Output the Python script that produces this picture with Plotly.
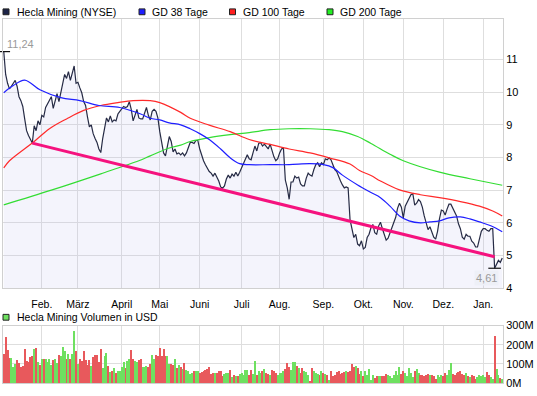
import plotly.graph_objects as go

# ---------------- data ----------------
months = ["Feb.", "März", "April", "Mai", "Juni", "Juli", "Aug.", "Sep.", "Okt.", "Nov.", "Dez.", "Jan."]
month_start_idx = [20, 39, 62, 82, 103, 125, 145, 168, 189, 210, 231, 252]

price = [
    11.24, 10.54, 10.27, 10.10, 10.18, 10.27, 10.36, 10.18, 9.86, 9.74,
    9.56, 9.18, 8.82, 8.67, 8.55, 8.44, 8.97, 8.82, 9.12, 9.00,
    9.29, 9.24, 9.53, 9.65, 9.74, 9.86, 9.50, 9.74, 9.95, 9.71,
    9.98, 10.21, 10.54, 10.42, 10.63, 10.36, 10.63, 10.80, 10.27, 10.30,
    10.13, 9.98, 9.71, 9.59, 9.24, 8.94, 9.00, 8.73, 8.58, 8.46,
    8.26, 8.15, 8.58, 8.94, 9.21, 9.09, 9.27, 9.09, 9.15, 9.12,
    9.33, 9.41, 9.47, 9.56, 9.53, 9.56, 9.71, 9.47, 9.12, 9.29,
    9.47, 9.21, 9.18, 9.18, 9.38, 9.53, 9.29, 9.15, 9.41, 9.47,
    9.41, 9.21, 8.79, 8.41, 8.14, 8.05, 8.41, 8.64, 8.49, 8.17,
    8.26, 8.11, 8.14, 8.08, 8.14, 8.05, 8.14, 8.32, 8.46, 8.46,
    8.43, 8.52, 8.52, 8.26, 8.05, 7.90, 7.78, 7.66, 7.57, 7.52,
    7.43, 7.52, 7.40, 7.28, 7.10, 7.06, 7.13, 7.34, 7.46, 7.37,
    7.49, 7.43, 7.55, 7.43, 7.55, 7.69, 7.78, 7.93, 8.08, 7.96,
    7.93, 8.14, 8.35, 8.20, 8.43, 8.46, 8.35, 8.41, 8.35, 8.26,
    8.41, 8.20, 8.02, 7.90, 7.96, 8.14, 8.26, 8.29, 7.31, 7.07,
    6.72, 7.25, 7.25, 7.43, 7.37, 7.40, 7.19, 7.13, 7.13, 7.37,
    7.52, 7.46, 7.43, 7.63, 7.78, 7.84, 7.72, 7.84, 7.78, 7.96,
    7.93, 7.99, 7.93, 7.78, 7.63, 7.57, 7.40, 7.28, 7.16, 7.07,
    7.10, 7.07, 6.10, 5.80, 5.55, 5.65, 5.35, 5.30, 5.45, 5.20,
    5.25, 5.55, 5.65, 5.85, 5.95, 5.70, 5.65, 5.90, 6.02, 5.82,
    5.65, 5.47, 5.53, 5.68, 5.82, 6.02, 6.17, 6.45, 6.60, 6.48,
    6.15, 6.51, 6.63, 6.74, 6.86, 6.89, 6.54, 6.60, 6.71, 6.65,
    6.48, 6.21, 6.00, 5.79, 5.88, 5.74, 5.56, 5.50, 5.74, 6.12,
    6.39, 6.36, 6.24, 6.42, 6.57, 6.57, 6.45, 6.36, 6.21, 5.97,
    5.82, 5.56, 5.50, 5.65, 5.59, 5.59, 5.44, 5.38, 5.26, 5.26,
    5.56, 5.74, 5.82, 5.82, 5.77, 5.74, 5.82, 5.82, 4.61, 4.73,
    4.85, 4.79, 4.92,
]

volume_m = [
    152, 244, 174, 136, 136, 88, 101, 123, 108,
    86, 94, 179, 118, 111, 140, 143, 182, 185, 111,
    98, 131, 131, 128, 111, 131, 98, 123, 128,
    108, 148, 145, 189, 168, 131, 155, 128, 152, 275,
    168, 104, 128, 118, 168, 123, 98, 123, 94, 140,
    148, 148, 111, 182, 81, 142, 162, 93, 59,
    64, 84, 54, 64, 67, 89, 111, 81, 118, 126,
    174, 131, 118, 115, 123, 128, 89, 89, 91, 88,
    101, 148, 131, 148, 145, 185, 145, 182, 142, 145,
    101, 101, 98, 131, 81, 98, 86, 78, 106,
    72, 64, 52, 54, 67, 64, 64, 56, 59, 64,
    71, 76, 89, 52, 56, 56, 56, 67, 64,
    39, 51, 56, 56, 71, 34, 44, 40, 40, 51,
    56, 47, 71, 72, 44, 72, 51, 118, 47, 67,
    56, 64, 76, 56, 51, 47, 72, 64, 56, 47,
    54, 56, 64, 78, 106, 89, 72, 111, 111,
    93, 81, 56, 84, 67, 59, 47, 13, 81, 64,
    56, 52, 47, 67, 57, 51, 47, 17, 64, 39,
    47, 61, 64, 51, 54, 59, 64, 59, 67,
    101, 89, 94, 84, 51, 67, 39, 64, 47, 76,
    17, 47, 30, 39, 42, 40, 40, 40, 51,
    47, 42, 30, 47, 64, 47, 89, 51, 67, 56,
    42, 81, 56, 34, 67, 78, 54, 44, 47, 39,
    44, 51, 47, 44, 42, 24, 44, 34, 47, 39,
    56, 47, 72, 106, 52, 47, 54, 59, 64, 52,
    47, 56, 42, 34, 44, 40, 22, 34, 47, 40,
    47, 34, 61, 44, 34, 22, 249, 78, 44, 29, 27,
]

gd38_idx = [0, 5, 11, 19, 30, 40, 50, 61, 72, 77, 82, 87, 93, 98, 103, 108, 114, 119, 124,
            129, 140, 150, 161, 168, 173, 178, 186, 193, 198, 203, 208, 213, 219, 224, 229,
            234, 240, 245, 250, 256, 262]
gd38_val = [9.98, 10.20, 10.37, 10.07, 9.83, 9.74, 9.59, 9.53, 9.33, 9.20, 9.15, 9.06, 9.00,
            8.88, 8.73, 8.55, 8.26, 7.99, 7.81, 7.78, 7.78, 7.78, 7.81, 7.78, 7.69, 7.46, 7.16,
            6.93, 6.77, 6.51, 6.21, 6.06, 6.00, 6.03, 6.06, 6.15, 6.18, 6.12, 6.03, 5.91, 5.73]

gd100_idx = [0, 3, 16, 24, 33, 42, 51, 60, 68, 77, 82, 93, 98, 108, 119, 129, 140, 150, 161,
             171, 182, 187, 193, 198, 208, 219, 229, 240, 250, 257, 262]
gd100_val = [7.68, 7.90, 8.49, 8.88, 9.18, 9.44, 9.59, 9.68, 9.74, 9.74, 9.68, 9.38, 9.20,
             8.99, 8.79, 8.55, 8.40, 8.26, 8.14, 7.99, 7.80, 7.60, 7.45, 7.28, 7.01, 6.86,
             6.77, 6.65, 6.51, 6.36, 6.21]

gd200_idx = [0, 25, 51, 71, 77, 87, 93, 98, 108, 119, 129, 140, 150, 161, 171, 178, 186,
             193, 203, 210, 229, 245, 262]
gd200_val = [6.55, 7.00, 7.50, 7.90, 8.05, 8.29, 8.38, 8.49, 8.61, 8.70, 8.76, 8.85, 8.88,
             8.88, 8.85, 8.79, 8.64, 8.43, 8.10, 7.90, 7.55, 7.35, 7.15]

trend_idx = [15, 258]
trend_val = [8.44, 4.96]

# ---------------- figure ----------------
W, H = 537, 396
def px(x):
    return x / W
def py(y):
    return 1 - y / H

idx = list(range(len(price)))
FONT = "Liberation Sans"

fig = go.Figure()

# price area + line
fig.add_trace(go.Scatter(x=idx, y=price, mode="lines", fill="tozeroy",
                         fillcolor="rgba(190,190,240,0.17)",
                         line=dict(color="#262b45", width=1.2), xaxis="x", yaxis="y",
                         hoverinfo="skip"))
fig.add_trace(go.Scatter(x=gd200_idx, y=gd200_val, mode="lines", line_shape="spline",
                         line=dict(color="#33dd33", width=1.2), xaxis="x", yaxis="y"))
fig.add_trace(go.Scatter(x=gd100_idx, y=gd100_val, mode="lines", line_shape="spline",
                         line=dict(color="#ff2a2a", width=1.2), xaxis="x", yaxis="y"))
fig.add_trace(go.Scatter(x=gd38_idx, y=gd38_val, mode="lines", line_shape="spline",
                         line=dict(color="#1f1fff", width=1.2), xaxis="x", yaxis="y"))
fig.add_trace(go.Scatter(x=trend_idx, y=trend_val, mode="lines",
                         line=dict(color="#f5127e", width=3), xaxis="x", yaxis="y"))

# max / min markers
imax = max(idx, key=lambda i: price[i])
imin = min(idx, key=lambda i: price[i])
fig.add_trace(go.Scatter(x=[imax, imin], y=[price[imax], price[imin]], mode="markers",
                         marker=dict(symbol="line-ew-open", size=9, color="#111111",
                                     line=dict(color="#111111", width=1.2)),
                         cliponaxis=False, xaxis="x", yaxis="y"))

# volume bars
vol_colors = []
for i in idx:
    if i == 0 or price[i] < price[i - 1]:
        vol_colors.append("#e8595c")
    else:
        vol_colors.append("#6ee060")
fig.add_trace(go.Bar(x=idx, y=volume_m, marker=dict(color=vol_colors, line=dict(width=0)),
                     width=0.55, xaxis="x2", yaxis="y2"))

grid = "#dedede"
frame = "#d0d0d0"
xdom = [px(3), px(503)]
xrange = [-0.4, 262.4]

fig.update_layout(
    width=W, height=H,
    margin=dict(l=0, r=0, t=0, b=0),
    paper_bgcolor="white", plot_bgcolor="white",
    showlegend=False,
    bargap=0,
    font=dict(family=FONT, size=11, color="#000000"),
    xaxis=dict(domain=xdom, range=xrange, anchor="y",
               tickmode="array", tickvals=month_start_idx, ticktext=months,
               showgrid=True, gridcolor=grid, gridwidth=1,
               showline=True, mirror=True, linecolor=frame, linewidth=1,
               zeroline=False, ticks="outside", ticklen=6, tickcolor="rgba(0,0,0,0)",
               tickfont=dict(size=10.5, family=FONT)),
    yaxis=dict(domain=[py(291), py(13)], range=[4, 12.25], side="right", anchor="x",
               tickmode="array", tickvals=[4, 5, 6, 7, 8, 9, 10, 11],
               showgrid=True, gridcolor=grid, gridwidth=1,
               showline=True, mirror=True, linecolor=frame, linewidth=1,
               zeroline=False, ticks="", tickfont=dict(size=11, family=FONT)),
    xaxis2=dict(domain=xdom, range=xrange, anchor="y2",
                tickmode="array", tickvals=month_start_idx, showticklabels=False,
                showgrid=True, gridcolor=grid, gridwidth=1,
                showline=True, mirror=True, linecolor=frame, linewidth=1,
                zeroline=False, ticks=""),
    yaxis2=dict(domain=[py(389), py(329.5)], range=[0, 300], side="right", anchor="x2",
                tickmode="array", tickvals=[0, 100, 200, 300],
                ticktext=["0M", "100M", "200M", "300M"],
                showgrid=True, gridcolor=grid, gridwidth=1,
                showline=True, mirror=True, linecolor=frame, linewidth=1,
                zeroline=False, ticks="", tickfont=dict(size=11, family=FONT)),
)

# value labels for max and min
fig.add_annotation(x=imax, y=price[imax], xref="x", yref="y", text="11,24",
                   showarrow=False, xanchor="left", yanchor="bottom", xshift=1, yshift=0,
                   font=dict(size=11, color="#9a9a9a", family=FONT))
fig.add_annotation(x=imin, y=price[imin], xref="x", yref="y", text="4,61",
                   showarrow=False, xanchor="right", yanchor="top", xshift=4, yshift=-2,
                   bgcolor="#eef0f7", borderpad=1,
                   font=dict(size=11, color="#9a9a9a", family=FONT))

# legends (header rows)
legend_items = [
    (3, "#1c2448", "Hecla Mining (NYSE)", 15),
    (139, "#1f1fff", "GD 38 Tage", 150),
    (229.5, "#ff1f1f", "GD 100 Tage", 241),
    (327, "#22ee22", "GD 200 Tage", 338),
]
for sx, col, txt, tx in legend_items:
    fig.add_shape(type="rect", xref="paper", yref="paper",
                  x0=px(sx), x1=px(sx + 6), y0=py(9), y1=py(3),
                  fillcolor=col, line=dict(color="#222222", width=1))
    fig.add_annotation(x=px(tx), y=py(6), xref="paper", yref="paper", text=txt,
                       showarrow=False, xanchor="left", yanchor="middle",
                       font=dict(size=10.5, color="#000000", family=FONT))

fig.add_shape(type="rect", xref="paper", yref="paper",
              x0=px(3), x1=px(9), y0=py(324), y1=py(318),
              fillcolor="#6ee060", line=dict(color="#222222", width=1))
fig.add_annotation(x=px(15), y=py(321), xref="paper", yref="paper",
                   text="Hecla Mining Volumen in USD", showarrow=False,
                   xanchor="left", yanchor="middle",
                   font=dict(size=10.5, color="#000000", family=FONT))

fig.write_html("out.html",
               config={"displayModeBar": False},
               post_script="document.body.style.margin='0';document.body.style.overflow='hidden';")
